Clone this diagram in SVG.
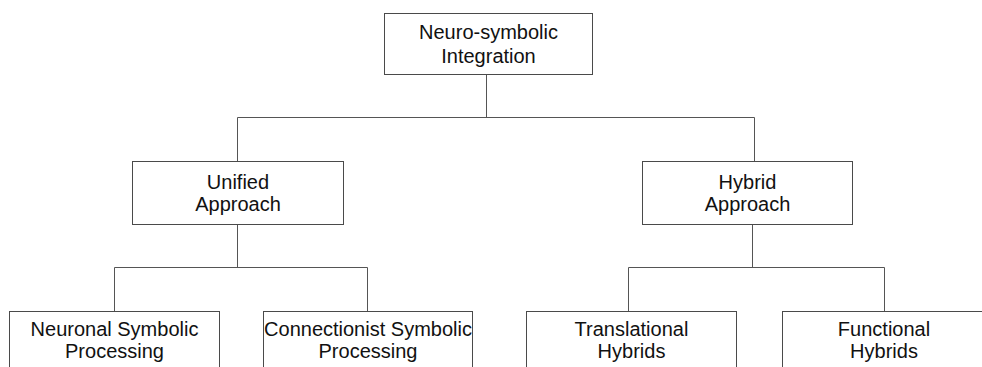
<svg xmlns="http://www.w3.org/2000/svg" width="982" height="367" viewBox="0 0 982 367">
  <style>
    .box { fill: #ffffff; stroke: #4a4a4a; stroke-width: 1; }
    .lbl { font-family: "Liberation Sans", Arial, sans-serif; font-size: 20px; fill: #111111; text-anchor: middle; }
    .wire { fill: none; stroke: #555555; stroke-width: 1; }
  </style>
  <rect width="982" height="367" fill="#ffffff"/>

  <g id="connectors">
    <path class="wire" d="M486.5 74.5 V117.5 M237.5 117.5 H754.5 M237.5 117.5 V161.5 M754.5 117.5 V161.5"/>
    <path class="wire" d="M237.5 224.5 V267.5 M114.5 267.5 H367.5 M114.5 267.5 V311.5 M367.5 267.5 V311.5"/>
    <path class="wire" d="M752.5 224.5 V267.5 M628.5 267.5 H884.5 M628.5 267.5 V311.5 M884.5 267.5 V311.5"/>
  </g>

  <g id="neuro-symbolic-integration">
    <rect class="box" x="384.5" y="13.5" width="208" height="61"/>
    <text class="lbl" x="488.5" y="39">Neuro-symbolic</text>
    <text class="lbl" x="488.5" y="63">Integration</text>
  </g>

  <g id="unified-approach">
    <rect class="box" x="132.5" y="161.5" width="211" height="63"/>
    <text class="lbl" x="238" y="189">Unified</text>
    <text class="lbl" x="238" y="211">Approach</text>
  </g>

  <g id="hybrid-approach">
    <rect class="box" x="642.5" y="161.5" width="210" height="63"/>
    <text class="lbl" x="747.5" y="189">Hybrid</text>
    <text class="lbl" x="747.5" y="211">Approach</text>
  </g>

  <g id="neuronal-symbolic-processing">
    <rect class="box" x="9.5" y="311.5" width="210" height="70"/>
    <text class="lbl" x="114.5" y="336">Neuronal Symbolic</text>
    <text class="lbl" x="114.5" y="358">Processing</text>
  </g>

  <g id="connectionist-symbolic-processing">
    <rect class="box" x="263.5" y="311.5" width="209" height="70"/>
    <text class="lbl" x="368" y="336">Connectionist Symbolic</text>
    <text class="lbl" x="368" y="358">Processing</text>
  </g>

  <g id="translational-hybrids">
    <rect class="box" x="526.5" y="311.5" width="210" height="70"/>
    <text class="lbl" x="631.5" y="336">Translational</text>
    <text class="lbl" x="631.5" y="358">Hybrids</text>
  </g>

  <g id="functional-hybrids">
    <rect class="box" x="782.5" y="311.5" width="210" height="70"/>
    <text class="lbl" x="884" y="336">Functional</text>
    <text class="lbl" x="884" y="358">Hybrids</text>
  </g>
</svg>
